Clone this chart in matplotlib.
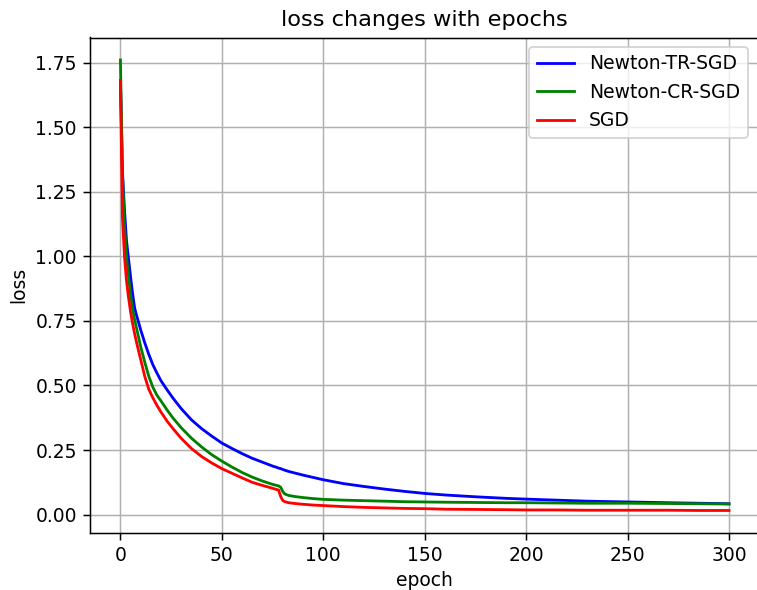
import matplotlib
matplotlib.use("Agg")
import matplotlib.pyplot as plt

epochs = [0, 1, 2, 3, 4, 5, 6, 7, 8, 10, 12, 14, 16, 18, 20, 23, 26, 30, 35, 40,
          45, 50, 55, 60, 65, 70, 75, 77, 78, 79, 80, 81, 83, 86, 90, 95, 100,
          110, 120, 130, 140, 150, 160, 175, 190, 200, 215, 230, 250, 270, 285, 300]

loss_tr = [1.68, 1.33, 1.18, 1.06, 0.99, 0.92, 0.855, 0.80, 0.77, 0.715, 0.665, 0.62,
           0.58, 0.548, 0.518, 0.483, 0.45, 0.41, 0.367, 0.333, 0.304, 0.277, 0.256,
           0.236, 0.218, 0.203, 0.188, 0.183, 0.180, 0.178, 0.175, 0.172, 0.167,
           0.161, 0.153, 0.144, 0.135, 0.120, 0.109, 0.099, 0.090, 0.082, 0.076,
           0.069, 0.063, 0.060, 0.056, 0.052, 0.049, 0.046, 0.044, 0.042]

loss_cr = [1.76, 1.32, 1.12, 1.00, 0.92, 0.85, 0.795, 0.755, 0.72, 0.65, 0.59, 0.535,
           0.493, 0.462, 0.44, 0.405, 0.373, 0.336, 0.296, 0.262, 0.232, 0.207, 0.184,
           0.163, 0.145, 0.130, 0.117, 0.113, 0.111, 0.106, 0.090, 0.080, 0.074,
           0.070, 0.066, 0.062, 0.059, 0.056, 0.054, 0.052, 0.050, 0.049, 0.048,
           0.047, 0.046, 0.046, 0.045, 0.044, 0.044, 0.043, 0.042, 0.041]

loss_sgd = [1.68, 1.15, 1.00, 0.905, 0.84, 0.785, 0.74, 0.70, 0.665, 0.60, 0.535, 0.485,
            0.452, 0.423, 0.397, 0.362, 0.332, 0.295, 0.256, 0.225, 0.200, 0.178, 0.160,
            0.142, 0.125, 0.113, 0.102, 0.097, 0.095, 0.070, 0.055, 0.050, 0.046,
            0.043, 0.040, 0.037, 0.035, 0.031, 0.028, 0.026, 0.024, 0.023, 0.021,
            0.020, 0.019, 0.018, 0.018, 0.017, 0.017, 0.017, 0.016, 0.016]

labels = ["Newton-TR-SGD", "Newton-CR-SGD", "SGD"]

dpi = 134.8
fig = plt.figure(figsize=(757 / dpi, 590 / dpi), dpi=dpi)
ax_w = 800 - 90
ax = fig.add_axes([90 / 757, (590 - 533) / 590, ax_w / 757, (533 - 37.5) / 590])

ax.plot(epochs, loss_tr, color="b", label=labels[0])
ax.plot(epochs, loss_cr, color="g", label=labels[1])
ax.plot(epochs, loss_sgd, color="r", label=labels[2])

ax.set_xlim(-15, -15 + ax_w / 2.0285)
ax.set_xticks([0, 50, 100, 150, 200, 250, 300])
ax.spines["right"].set_visible(False)
ax.set_title("loss changes with epochs", x=(424 - 90) / ax_w)
ax.set_xlabel("epoch")
ax.xaxis.set_label_coords((424 - 90) / ax_w, -0.077)
ax.set_ylabel("loss")
ax.grid(True)
ax.legend(loc="upper right", bbox_to_anchor=((757 - 90) / ax_w, 1.0))

fig.savefig("out.png", dpi=dpi)
